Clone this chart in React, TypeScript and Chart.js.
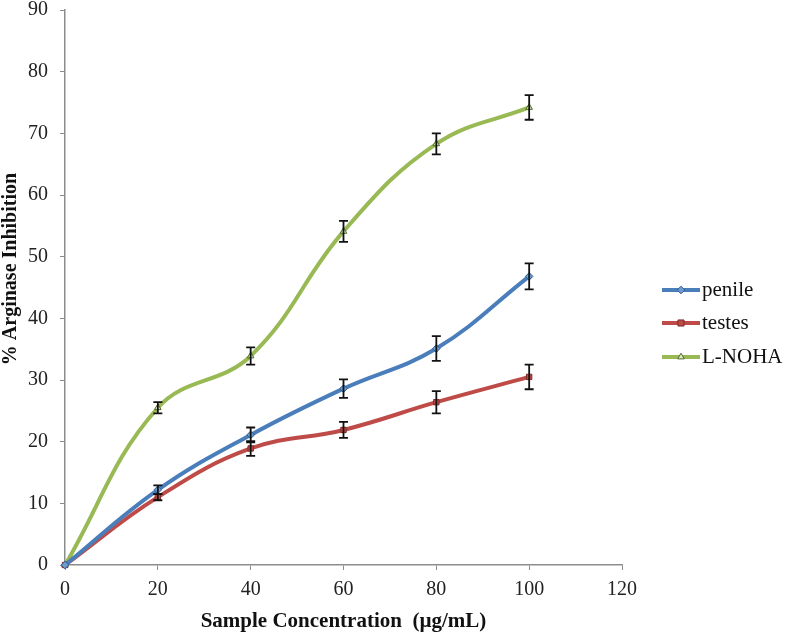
import { useEffect, useRef } from 'react'
import { Chart, registerables } from 'chart.js'

Chart.register(...registerables)

const concentrations = [0, 20, 40, 60, 80, 100]
const penile = [0, 12.2, 21.1, 28.6, 35.1, 46.8]
const penileErr = [0, 0.7, 1.2, 1.5, 2.0, 2.1]
const testes = [0, 11.0, 18.9, 21.9, 26.4, 30.5]
const testesErr = [0, 0.5, 1.2, 1.3, 1.8, 2.0]
const lnoha = [0, 25.5, 33.9, 54.1, 68.3, 74.2]
const lnohaErr = [0, 0.9, 1.4, 1.7, 1.7, 2.0]
const xTicks = [0, 20, 40, 60, 80, 100, 120]

const seriesNames = ['penile', 'testes', 'L-NOHA']
const lineColors = ['#4a7ebb', '#be4b48', '#98b954']
const markerFills = ['#6f9bd1', '#be4b48', '#dfe9c8']
const markerBorders = ['#2c5d8f', '#7d2b29', '#4f6b25']
const markerStyles = ['rectRot', 'rect', 'triangle'] as const

const font = '"Liberation Serif", "DejaVu Serif", serif'

function marker(ctx: CanvasRenderingContext2D, style: string, x: number, y: number, r: number) {
  ctx.beginPath()
  if (style === 'rectRot') {
    ctx.moveTo(x, y - r)
    ctx.lineTo(x + r, y)
    ctx.lineTo(x, y + r)
    ctx.lineTo(x - r, y)
  } else if (style === 'rect') {
    const s = r * 0.8
    ctx.rect(x - s, y - s, s * 2, s * 2)
  } else {
    ctx.moveTo(x, y - r)
    ctx.lineTo(x + r * 0.87, y + r * 0.5)
    ctx.lineTo(x - r * 0.87, y + r * 0.5)
  }
  ctx.closePath()
  ctx.fill()
  ctx.stroke()
}

const errorBars = {
  id: 'errorBars',
  afterDatasetsDraw(chart: any) {
    const { ctx, scales } = chart
    const errs = [penileErr, testesErr, lnohaErr]
    ctx.save()
    ctx.strokeStyle = '#111'
    ctx.lineWidth = 1.8
    chart.data.datasets.forEach((ds: any, i: number) => {
      ds.data.forEach((p: any, j: number) => {
        const e = errs[i][j]
        if (!e) return
        const x = scales.x.getPixelForValue(p.x)
        const y1 = scales.y.getPixelForValue(p.y - e)
        const y2 = scales.y.getPixelForValue(p.y + e)
        ctx.beginPath()
        ctx.moveTo(x, y1)
        ctx.lineTo(x, y2)
        ctx.moveTo(x - 4.5, y1)
        ctx.lineTo(x + 4.5, y1)
        ctx.moveTo(x - 4.5, y2)
        ctx.lineTo(x + 4.5, y2)
        ctx.stroke()
      })
    })
    ctx.restore()
  },
}

const sideLegend = {
  id: 'sideLegend',
  afterDraw(chart: any) {
    const { ctx } = chart
    const rows = [290, 323, 357]
    ctx.save()
    seriesNames.forEach((name, i) => {
      const y = rows[i]
      ctx.strokeStyle = lineColors[i]
      ctx.lineWidth = 4
      ctx.beginPath()
      ctx.moveTo(662, y)
      ctx.lineTo(700, y)
      ctx.stroke()
      ctx.fillStyle = markerFills[i]
      ctx.strokeStyle = markerBorders[i]
      ctx.lineWidth = 1
      marker(ctx, markerStyles[i], 681, y, 3.8)
      ctx.fillStyle = '#111'
      ctx.font = `21px ${font}`
      ctx.textBaseline = 'middle'
      ctx.textAlign = 'left'
      ctx.fillText(name, 702, y)
    })
    // y axis title, drawn by hand so it sits where the original has it
    ctx.translate(11, 269)
    ctx.rotate(-Math.PI / 2)
    ctx.font = `bold 20px ${font}`
    ctx.textAlign = 'center'
    ctx.textBaseline = 'middle'
    ctx.fillText('% Arginase Inhibition', 0, 0)
    ctx.restore()
  },
}

export default function App() {
  const canvasRef = useRef<HTMLCanvasElement | null>(null)

  useEffect(() => {
    let chart: Chart | null = null
    if (canvasRef.current) {
      const values = [penile, testes, lnoha]
      chart = new Chart(canvasRef.current, {
        type: 'line',
        data: {
          datasets: values.map((vals, i) => ({
            label: seriesNames[i],
            data: concentrations.map((c, j) => ({ x: c, y: vals[j] })),
            borderColor: lineColors[i],
            backgroundColor: lineColors[i],
            borderWidth: 4,
            tension: 0.4,
            pointStyle: markerStyles[i],
            pointRadius: 3.8,
            pointBorderWidth: 1,
            pointBorderColor: markerBorders[i],
            pointBackgroundColor: markerFills[i],
            clip: false,
          })),
        },
        options: {
          responsive: false,
          animation: false,
          layout: { padding: { top: 10, right: 165, left: 0, bottom: 0 } },
          plugins: {
            legend: { display: false },
            tooltip: { enabled: false },
          },
          scales: {
            x: {
              type: 'linear',
              min: 0,
              max: 120,
              afterBuildTicks: (scale: any) => {
                scale.ticks = xTicks.map((v) => ({ value: v }))
              },
              afterFit: (scale: any) => {
                scale.height = 69
              },
              grid: { drawOnChartArea: false, drawTicks: true, tickLength: 5, color: '#8c8c8c' },
              border: { color: '#8c8c8c', width: 1.5 },
              ticks: { color: '#222', font: { family: font, size: 20 }, padding: 8 },
              title: {
                display: true,
                text: 'Sample Concentration  (µg/mL)',
                color: '#111',
                font: { family: font, size: 21, weight: 'bold' },
                padding: { top: 3, bottom: 0 },
              },
            },
            y: {
              min: 0,
              max: 90,
              ticks: { stepSize: 10, color: '#222', font: { family: font, size: 20 }, padding: 12 },
              afterFit: (scale: any) => {
                scale.width = 65
                scale.paddingTop = 0
                scale.paddingBottom = 0
              },
              grid: { drawOnChartArea: false, drawTicks: true, tickLength: 5, color: '#8c8c8c' },
              border: { color: '#8c8c8c', width: 1.5 },
            },
          },
        },
        plugins: [errorBars, sideLegend],
      })
    }
    return () => {
      if (chart) chart.destroy()
    }
  }, [])

  return (
    <div style={{ position: 'fixed', left: 0, top: 0, width: 787, height: 634, background: '#fff' }}>
      <canvas ref={canvasRef} width={787} height={634} />
    </div>
  )
}
